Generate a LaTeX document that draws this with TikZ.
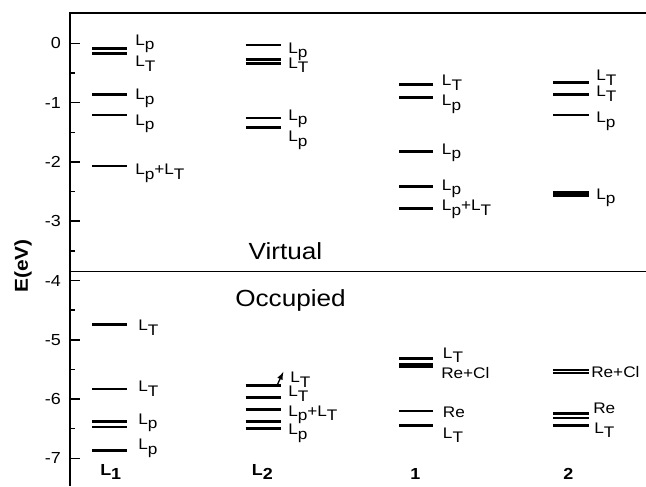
\documentclass[tikz,border=0pt]{standalone}
\usepackage{fontspec}
\setmainfont{Liberation Sans}[FakeStretch=1.12]
\usetikzlibrary{arrows,positioning}
\newcommand{\sub}[1]{\raisebox{-0.3em}{#1}}
\newcommand{\Lp}{L\sub{p}}
\newcommand{\LT}{L\sub{T}}

\begin{document}
\begin{tikzpicture}[x=0.75pt,y=44.475pt,
  lev/.style={line width=2.1pt},
  lab/.style={anchor=base west,inner sep=0pt,font=\fontsize{11.5}{13}\selectfont},
  tk/.style={anchor=east,inner sep=0pt,font=\fontsize{12}{14}\selectfont},
  col/.style={anchor=base west,inner sep=0pt,font=\fontsize{12}{14}\selectfont\bfseries},
  big/.style={anchor=base,inner sep=0pt,font=\fontsize{17.5}{20}\selectfont}]
  \useasboundingbox (0,0.730) rectangle (646,-7.466);

  \draw[line width=1.5pt] (70,-7.466) -- (70,0.511) -- (646,0.511);
  \foreach \e in {0,-1,...,-7} {
    \draw[line width=1.1pt] (70,\e) -- (80,\e);
    \node[tk] (t\e) at (61,\e) {\e};
  }
  \foreach \e in {-0.5,-1.5,...,-6.5}
    \draw[line width=1.1pt] (70,\e) -- (75,\e);
  \node[rotate=90,inner sep=0pt,font=\fontsize{14}{16}\selectfont\bfseries] (ylab) at (23,-3.755) {E(eV)};

  \draw[line width=0.75pt] (70,-3.852) -- (646,-3.852);
  \node[big] (virt) at (285.5,-3.643) {Virtual};
  \node[big] (occ) at (290.5,-4.44) {Occupied};

  \foreach \e in {-0.084,-0.17,-0.86,-1.21,-2.07,-4.74,-5.83,-6.38,-6.47,-6.87}
    \draw[lev] (92,\e) -- (127,\e);
  \foreach \e in {-0.03,-0.27,-0.34,-1.26,-1.42,-5.77,-5.97,-6.17,-6.38,-6.50}
    \draw[lev] (245.7,\e) -- (280.7,\e);
  \foreach \e in {-0.69,-0.92,-1.83,-2.41,-2.78,-5.31,-5.41,-5.46,-6.20,-6.45}
    \draw[lev] (399.3,\e) -- (433.3,\e);
  \foreach \e in {-0.66,-0.86,-1.21,-2.52,-2.56,-5.51,-5.56,-6.24,-6.32,-6.44}
    \draw[lev] (553.3,\e) -- (589.3,\e);

  \node[lab] (a1) at (135,-0.029) {\Lp};
  \node[lab] (a2) at (135,-0.395) {\LT};
  \node[lab] (a3) at (135,-0.956) {\Lp};
  \node[lab] (a4) at (135,-1.378) {\Lp};
  \node[lab] (a5) at (135,-2.22) {\Lp+\LT};
  \node[lab] (a6) at (138,-4.847) {\LT};
  \node[lab] (a7) at (138,-5.875) {\LT};
  \node[lab] (a8) at (138,-6.42) {\Lp};
  \node[lab] (a9) at (138,-6.858) {\Lp};

  \node[lab] (b1) at (288,-0.169) {\Lp};
  \node[lab] (b2) at (288,-0.417) {\LT};
  \node[lab] (b3) at (288,-1.294) {\Lp};
  \node[lab] (b4) at (288,-1.664) {\Lp};
  \node[lab] (b5) at (290,-5.723) {\LT};
  \node[lab] (b6) at (288,-5.96) {\LT};
  \node[lab] (b7) at (288,-6.285) {\Lp+\LT};
  \node[lab] (b8) at (288,-6.605) {\Lp};

  \node[lab] (c1) at (441.7,-0.72) {\LT};
  \node[lab] (c2) at (441.7,-1.057) {\Lp};
  \node[lab] (c3) at (441.7,-1.867) {\Lp};
  \node[lab] (c4) at (441.7,-2.474) {\Lp};
  \node[lab] (c5) at (441.7,-2.823) {\Lp+\LT};
  \node[lab] (c6) at (442.7,-5.312) {\LT};
  \node[lab] (c7) at (441,-5.649) {Re+Cl};
  \node[lab] (c8) at (442.7,-6.314) {Re};
  \node[lab] (c9) at (442.7,-6.661) {\LT};

  \node[lab] (d1) at (596,-0.63) {\LT};
  \node[lab] (d2) at (596,-0.9) {\LT};
  \node[lab] (d3) at (596,-1.339) {\Lp};
  \node[lab] (d4) at (596,-2.626) {\Lp};
  \node[lab] (d5) at (591,-5.639) {Re+Cl};
  \node[lab] (d6) at (593,-6.24) {Re};
  \node[lab] (d7) at (594,-6.577) {\LT};

  \coordinate (arr) at (277,-5.77);
  \draw[-latex,line width=1pt] (arr) -- ([xshift=-5pt]b5.north west);

  \node[col] (n1) at (100,-7.28) {L\sub{1}};
  \node[col] (n2) at (251.7,-7.28) {L\sub{2}};
  \node[col] (n3) at (410,-7.364) {1};
  \node[col] (n4) at (563,-7.364) {2};
\end{tikzpicture}
\end{document}
